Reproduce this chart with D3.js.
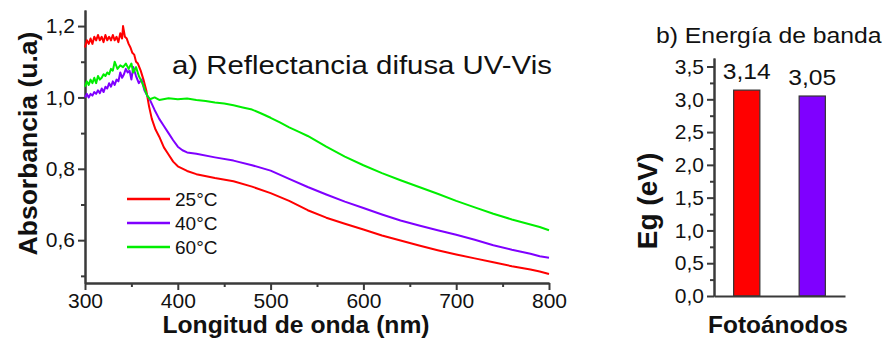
<!DOCTYPE html>
<html>
<head>
<meta charset="utf-8">
<script src="https://cdn.jsdelivr.net/npm/d3@7/dist/d3.min.js"></script>
<style>
	body { margin: 0; background: #fff; }
	text { font-family: "Liberation Sans", Arial, sans-serif; fill: #111; }
	.axis path, .axis line { stroke: #3a3a3a; stroke-width: 2px; }
	.axis text { font-size: 21px; fill: #111; }
</style>
</head>
<body>
<svg id="chart" width="885" height="338"></svg>
<script>
// UV-Vis diffuse reflectance curves, [wavelength nm, absorbance u.a]
const curve25 = [
	[300, 1.14], [302, 1.16], [304, 1.15], [306, 1.165], [308, 1.15], [310, 1.17], [312, 1.16],
	[314, 1.175], [316, 1.16], [318, 1.17], [320, 1.155], [322, 1.175], [324, 1.16], [326, 1.17],
	[328, 1.16], [330, 1.175], [332, 1.16], [334, 1.17], [336, 1.155], [338, 1.18], [340, 1.165],
	[341, 1.20], [343, 1.17], [345, 1.165], [347, 1.15], [349, 1.14], [351, 1.125], [353, 1.12],
	[355, 1.10], [357, 1.095], [360, 1.075], [363, 1.05], [366, 1.02], [369, 0.975], [372, 0.94],
	[376, 0.91], [380, 0.89], [385, 0.86], [390, 0.84], [395, 0.82], [400, 0.807], [410, 0.794],
	[420, 0.785], [440, 0.774], [460, 0.765], [480, 0.75], [500, 0.732], [520, 0.71], [540, 0.684],
	[560, 0.663], [580, 0.646], [600, 0.63], [620, 0.613], [640, 0.599], [660, 0.585], [680, 0.572],
	[700, 0.56], [720, 0.549], [740, 0.538], [760, 0.527], [780, 0.518], [790, 0.512], [800, 0.505]
];
const curve40 = [
	[300, 1.0], [302, 1.01], [304, 1.0], [306, 1.01], [308, 1.005], [310, 1.015], [312, 1.01],
	[314, 1.02], [316, 1.012], [318, 1.025], [320, 1.015], [322, 1.03], [324, 1.025], [326, 1.04],
	[328, 1.03], [330, 1.045], [332, 1.035], [334, 1.05], [336, 1.045], [338, 1.07], [340, 1.055],
	[342, 1.065], [344, 1.08], [346, 1.07], [348, 1.075], [350, 1.05], [352, 1.085], [355, 1.06],
	[358, 1.04], [361, 1.05], [364, 1.02], [367, 1.005], [370, 0.993], [375, 0.965], [380, 0.94],
	[385, 0.92], [390, 0.9], [395, 0.88], [400, 0.862], [405, 0.852], [410, 0.846], [420, 0.842],
	[440, 0.832], [460, 0.823], [480, 0.81], [500, 0.795], [520, 0.772], [540, 0.749], [560, 0.728],
	[580, 0.708], [600, 0.69], [620, 0.672], [640, 0.655], [660, 0.641], [680, 0.628], [700, 0.615],
	[720, 0.601], [740, 0.586], [760, 0.573], [780, 0.562], [790, 0.555], [800, 0.551]
];
const curve60 = [
	[300, 1.03], [302, 1.045], [304, 1.035], [306, 1.05], [308, 1.04], [310, 1.055], [312, 1.04],
	[314, 1.06], [316, 1.05], [318, 1.055], [320, 1.065], [322, 1.06], [324, 1.07], [326, 1.065],
	[328, 1.08], [330, 1.075], [332, 1.10], [335, 1.08], [338, 1.09], [341, 1.085], [344, 1.095],
	[347, 1.08], [350, 1.095], [352, 1.07], [355, 1.085], [358, 1.06], [361, 1.045], [364, 1.025],
	[367, 1.005], [370, 0.995], [375, 1.0], [380, 0.993], [390, 0.998], [400, 0.995], [410, 0.997],
	[420, 0.993], [430, 0.99], [440, 0.986], [450, 0.983], [460, 0.978], [470, 0.972], [480, 0.966],
	[490, 0.955], [500, 0.943], [510, 0.93], [520, 0.916], [530, 0.904], [540, 0.892], [560, 0.862],
	[580, 0.834], [600, 0.81], [620, 0.788], [640, 0.768], [660, 0.749], [680, 0.73], [700, 0.71],
	[720, 0.692], [740, 0.674], [760, 0.658], [780, 0.644], [790, 0.637], [800, 0.628]
];
const seriesNames = ["25°C", "40°C", "60°C"];
const seriesColors = ["#ff0000", "#7f00ff", "#00ee00"];

const xTicks = [300, 400, 500, 600, 700, 800];
const xMinorTicks = [350, 450, 550, 650, 750];
const yTicks = [0.6, 0.8, 1.0, 1.2];
const yMinorTicks = [0.5, 0.7, 0.9, 1.1];

// band gap bars
const barCategories = ["25°C", "40°C"];
const barValues = [3.14, 3.05];
const barColors = ["#ff0000", "#7f00ff"];
const egTicks = [0, 0.5, 1.0, 1.5, 2.0, 2.5, 3.0, 3.5];
const egMinorTicks = [0.25, 0.75, 1.25, 1.75, 2.25, 2.75, 3.25];

const commaFmt = d => d3.format(".1f")(d).replace(".", ",");

const svg = d3.select("#chart");

function drawSpectra() {
	const x = d3.scaleLinear().domain([300, 800]).range([85, 549]);
	const y = d3.scaleLinear().domain([0.48, 1.245]).range([283, 10]);

	// minor ticks first
	svg.append("g")
		.attr("class", "axis")
		.attr("transform", "translate(0,283)")
		.call(d3.axisBottom(x).tickValues(xMinorTicks).tickSize(4).tickSizeOuter(0).tickFormat(""));
	svg.append("g")
		.attr("class", "axis")
		.attr("transform", "translate(85,0)")
		.call(d3.axisLeft(y).tickValues(yMinorTicks).tickSize(4).tickSizeOuter(0).tickFormat(""));

	svg.append("g")
		.attr("class", "axis")
		.attr("transform", "translate(0,283)")
		.call(d3.axisBottom(x).tickValues(xTicks).tickSize(7).tickSizeOuter(0).tickPadding(3));
	svg.append("g")
		.attr("class", "axis")
		.attr("transform", "translate(85,0)")
		.call(d3.axisLeft(y).tickValues(yTicks).tickSize(7).tickSizeOuter(0).tickPadding(3).tickFormat(commaFmt));

	const line = d3.line()
		.x(d => x(d[0]))
		.y(d => y(d[1]));

	[curve25, curve40, curve60].forEach((c, i) => {
		svg.append("path")
			.datum(c)
			.attr("d", line)
			.style("fill", "none")
			.style("stroke", seriesColors[i])
			.style("stroke-width", "2px")
			.style("stroke-linejoin", "round");
	});

	// legend
	const legend = svg.append("g").attr("transform", "translate(127,199)");
	seriesNames.forEach((name, i) => {
		const g = legend.append("g").attr("transform", "translate(0," + (i * 24) + ")");
		g.append("line")
			.attr("x1", 0).attr("x2", 43)
			.attr("stroke", seriesColors[i])
			.attr("stroke-width", 2.5);
		g.append("text")
			.attr("x", 48)
			.attr("y", 7)
			.style("font-size", "19px")
			.text(name);
	});

	svg.append("text")
		.attr("transform", "translate(172,74) scale(1.13,1)")
		.style("font-size", "26px")
		.text("a) Reflectancia difusa UV-Vis");

	svg.append("text")
		.attr("transform", "translate(296,333) scale(1.05,1)")
		.attr("text-anchor", "middle")
		.style("font-size", "23.5px")
		.style("font-weight", "bold")
		.text("Longitud de onda (nm)");

	svg.append("text")
		.attr("transform", "translate(37,143.5) rotate(-90)")
		.attr("text-anchor", "middle")
		.style("font-size", "26.5px")
		.style("font-weight", "bold")
		.text("Absorbancia (u.a)");
}

function drawBandGap() {
	const x = d3.scaleBand().domain(barCategories).range([714, 845])
		.paddingInner(0.6).paddingOuter(0.3);
	const y = d3.scaleLinear().domain([0, 3.63]).range([296, 58]);

	svg.append("g")
		.attr("class", "axis")
		.attr("transform", "translate(714,0)")
		.call(d3.axisLeft(y).tickValues(egMinorTicks).tickSize(4).tickSizeOuter(0).tickFormat(""));
	svg.append("g")
		.attr("class", "axis")
		.attr("transform", "translate(714,0)")
		.call(d3.axisLeft(y).tickValues(egTicks).tickSize(7).tickSizeOuter(0).tickPadding(3).tickFormat(commaFmt));

	svg.selectAll(".bar")
		.data(barValues)
		.enter().append("rect")
		.attr("x", (d, i) => x(barCategories[i]))
		.attr("width", x.bandwidth())
		.attr("y", d => y(d))
		.attr("height", d => y(0) - y(d))
		.style("fill", (d, i) => barColors[i])
		.style("stroke", "#333")
		.style("stroke-width", "1.2px");

	svg.append("g")
		.attr("class", "axis")
		.attr("transform", "translate(0,296)")
		.call(d3.axisBottom(x).tickSize(0).tickSizeOuter(0).tickFormat(""));

	svg.selectAll(".barlabel")
		.data(barValues)
		.enter().append("text")
		.attr("transform", (d, i) => "translate(" + (x(barCategories[i]) + x.bandwidth() / 2) + "," + (y(d) - 11) + ") scale(1.12,1)")
		.attr("text-anchor", "middle")
		.style("font-size", "22px")
		.text(d => d3.format(".2f")(d).replace(".", ","));

	svg.append("text")
		.attr("transform", "translate(656,43) scale(1.1,1)")
		.style("font-size", "22.5px")
		.text("b) Energía de banda");

	svg.append("text")
		.attr("transform", "translate(778,333) scale(1.04,1)")
		.attr("text-anchor", "middle")
		.style("font-size", "23.5px")
		.style("font-weight", "bold")
		.text("Fotoánodos");

	svg.append("text")
		.attr("transform", "translate(657,201) rotate(-90)")
		.attr("text-anchor", "middle")
		.style("font-size", "28px")
		.style("font-weight", "bold")
		.text("Eg (eV)");
}

drawSpectra();
drawBandGap();
</script>
</body>
</html>
